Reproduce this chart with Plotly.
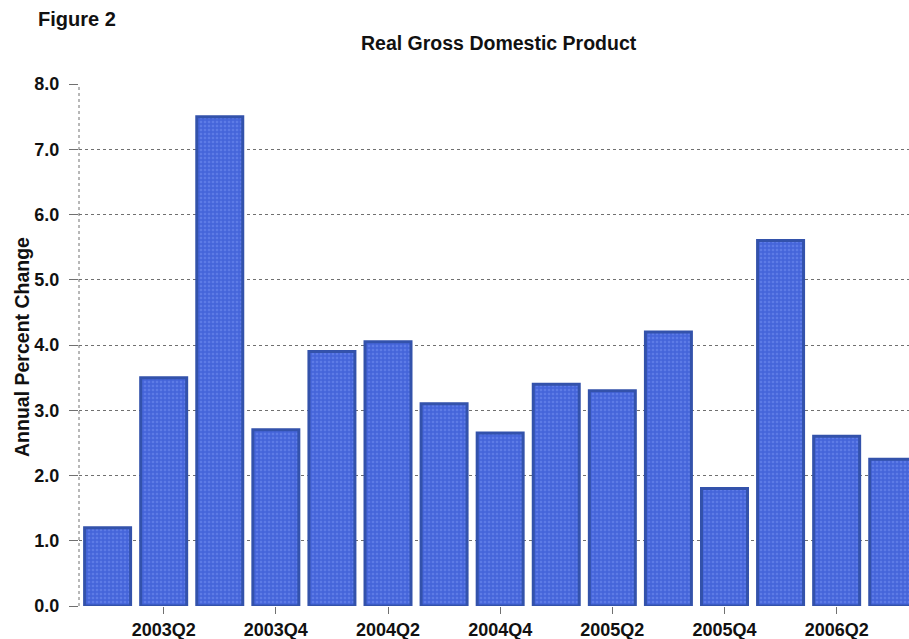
import plotly.graph_objects as go

quarters = ["2003Q1", "2003Q2", "2003Q3", "2003Q4", "2004Q1", "2004Q2", "2004Q3", "2004Q4",
            "2005Q1", "2005Q2", "2005Q3", "2005Q4", "2006Q1", "2006Q2", "2006Q3"]
gdp_change = [1.2, 3.5, 7.5, 2.7, 3.9, 4.05, 3.1, 2.65, 3.4, 3.3, 4.2, 1.8, 5.6, 2.6, 2.25]
tick_labels = quarters[1::2]
y_ticks = [0, 1, 2, 3, 4, 5, 6, 7, 8]

FONT = "Liberation Sans, Arial, sans-serif"

fig = go.Figure()
fig.add_trace(go.Bar(
    x=quarters,
    y=gdp_change,
    marker=dict(
        color="#4a6be0",
        line=dict(color="#3352ab", width=3),
        pattern=dict(shape=".", fgcolor="#7592f2", bgcolor="#4565da", size=4, solidity=0.35),
    ),
    width=0.82,
    hoverinfo="x+y",
))

fig.update_layout(
    width=909, height=639,
    margin=dict(l=79, r=0, t=84, b=33),
    paper_bgcolor="white",
    plot_bgcolor="white",
    showlegend=False,
    font=dict(family=FONT, color="#111111"),
    annotations=[
        dict(text="<b>Figure 2</b>", xref="paper", yref="paper", x=(36 - 79) / 830, y=1 + (84 - 19) / 522,
             xanchor="left", yanchor="middle", showarrow=False,
             font=dict(family=FONT, size=20, color="#111111")),
        dict(text="<b>Real Gross Domestic Product</b>", xref="paper", yref="paper",
             x=(499 - 79) / 830, y=1 + (84 - 43) / 522,
             xanchor="center", yanchor="middle", showarrow=False,
             font=dict(family=FONT, size=19.5, color="#111111")),
        dict(text="<b>Annual Percent Change</b>", xref="paper", yref="paper",
             x=(22 - 79) / 830, y=(606 - 347) / 522, textangle=-90,
             xanchor="center", yanchor="middle", showarrow=False,
             font=dict(family=FONT, size=19.5, color="#111111")),
    ],
    shapes=[
        dict(type="line", xref="paper", yref="paper", x0=0, x1=0, y0=0, y1=1,
             line=dict(color="#707070", width=1, dash="dot"), layer="below"),
    ],
)

fig.update_xaxes(
    type="category",
    range=[-0.51, 14.29],
    tickmode="array",
    tickvals=tick_labels,
    ticktext=tick_labels,
    ticks="outside",
    ticklen=7,
    tickcolor="#707070",
    tickfont=dict(family=FONT, size=18, color="#111111", weight="bold"),
    showgrid=False,
    showline=False,
    zeroline=False,
)

fig.update_yaxes(
    range=[0, 8],
    tickmode="array",
    tickvals=y_ticks,
    tickformat=".1f",
    ticks="outside",
    ticklen=9,
    tickcolor="#707070",
    ticklabelstandoff=6,
    tickfont=dict(family=FONT, size=18, color="#111111", weight="bold"),
    showgrid=True,
    gridcolor="#707070",
    gridwidth=1,
    griddash="dot",
    zeroline=False,
    showline=False,
)

fig.write_html("out.html")
